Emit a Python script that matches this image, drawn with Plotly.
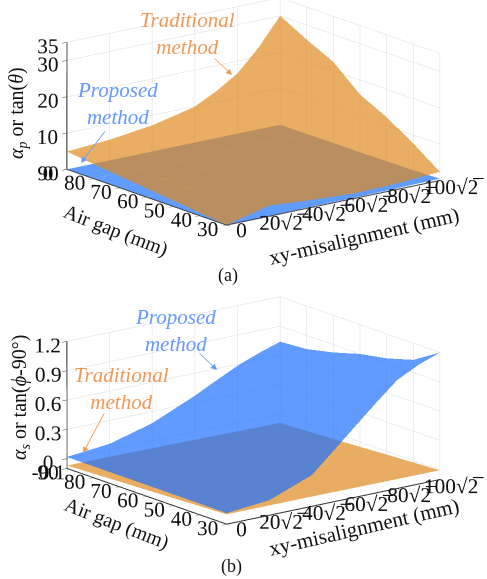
import plotly.graph_objects as go

gap = [30, 40, 50, 60, 70, 80, 90]
xy = [0, 20, 40, 60, 80, 100]
xy_fine = [0, 20, 40, 60, 70, 80, 90, 100]
xy_labels = ["0", "20√2̅", "40√2̅", "60√2̅", "80√2̅", "100√2̅"]

trad_a = [
    [0.0, 2.9, 2.0, 1.4, 1.5, 1.7, 2.0, 2.4],
    [0.8, 2.6, 2.8, 3.3, 4.0, 5.0, 6.2, 7.6],
    [1.6, 2.7, 3.4, 4.5, 5.6, 7.2, 9.4, 12.3],
    [2.4, 3.2, 4.2, 5.9, 7.4, 9.6, 12.4, 16.0],
    [3.2, 3.9, 5.1, 7.3, 9.2, 12.0, 16.0, 22.4],
    [4.0, 4.8, 6.1, 8.6, 10.9, 14.0, 19.3, 26.0],
    [4.9, 5.7, 7.2, 9.9, 12.9, 16.6, 22.6, 30.0],
]
prop_a = [
    [0.0, 0.1, 0.2, 0.2, 0.3, 0.5],
    [0.0, 0.1, 0.1, 0.2, 0.2, 0.3],
    [0.0, 0.1, 0.1, 0.1, 0.2, 0.2],
    [0.0, 0.0, 0.1, 0.1, 0.1, 0.1],
    [0.0, 0.0, 0.0, 0.1, 0.1, 0.1],
    [0.0, 0.0, 0.0, 0.0, 0.0, 0.0],
    [0.0, 0.0, 0.0, 0.0, 0.0, 0.0],
]
trad_b = [
    [0.0, 0.0, 0.0, -0.002, -0.004, -0.005],
    [-0.012, -0.012, -0.013, -0.015, -0.017, -0.019],
    [-0.024, -0.024, -0.026, -0.028, -0.031, -0.034],
    [-0.036, -0.037, -0.039, -0.042, -0.046, -0.05],
    [-0.047, -0.049, -0.052, -0.056, -0.06, -0.064],
    [-0.059, -0.061, -0.064, -0.068, -0.073, -0.078],
    [-0.07, -0.072, -0.076, -0.08, -0.085, -0.09],
]
prop_b = [
    [0.013, 0.054, 0.22, 0.62, 0.82, 1.01, 1.12, 1.2],
    [0.014, 0.055, 0.21, 0.57, 0.74, 0.90, 0.98, 1.03],
    [0.015, 0.055, 0.20, 0.52, 0.67, 0.82, 0.90, 0.95],
    [0.015, 0.055, 0.19, 0.47, 0.61, 0.75, 0.84, 0.90],
    [0.016, 0.06, 0.19, 0.43, 0.56, 0.69, 0.77, 0.82],
    [0.016, 0.06, 0.18, 0.40, 0.52, 0.63, 0.71, 0.76],
    [0.017, 0.06, 0.18, 0.37, 0.48, 0.585, 0.67, 0.74],
]
za_ticks = [0, 10, 20, 30, 35]
zb_ticks = [-0.1, 0, 0.3, 0.6, 0.9, 1.2]
zb_labels = ["-0.1", "0", "0.3", "0.6", "0.9", "1.2"]

ORANGE_BASE = "#E8AC62"
ORANGE_TOP = "#DF891F"
BLUE_BASE = "#609CFF"
BLUE_TOP = "#1C70FF"
FONT = "Liberation Serif"


def surf(x, z, color, scene, opacity):
    return go.Surface(
        x=x, y=gap, z=z, scene=scene, showscale=False, opacity=opacity,
        colorscale=[[0, color], [1, color]], hoverinfo="skip",
        lighting=dict(ambient=1, diffuse=0, specular=0, fresnel=0),
    )


fig = go.Figure()
fig.add_trace(surf(xy, prop_a, BLUE_BASE, "scene", 1))
fig.add_trace(surf(xy_fine, trad_a, ORANGE_TOP, "scene", 0.7))
fig.add_trace(surf(xy, trad_b, ORANGE_BASE, "scene2", 1))
fig.add_trace(surf(xy_fine, prop_b, BLUE_TOP, "scene2", 0.7))


def axis(**kw):
    return dict(
        showbackground=False, showgrid=True, gridcolor="#DDDDDD", gridwidth=1,
        showline=True, linecolor="#222222", linewidth=2, zeroline=False,
        showspikes=False, title=dict(text=""), ticks="outside", ticklen=6,
        tickfont=dict(family=FONT, size=16, color="#111111"), tickangle=0,
        **kw,
    )


R = 1.9
CX, CY = -0.06, 0.034


def scene(domain, zrange, ztv, ztt, cz):
    return dict(
        domain=domain,
        xaxis=axis(range=[0, 100], tickmode="array", tickvals=xy, ticktext=xy_labels),
        yaxis=axis(range=[30, 90], tickmode="array", tickvals=gap, ticktext=[str(g) for g in gap]),
        zaxis=axis(range=zrange, tickmode="array", tickvals=ztv, ticktext=ztt),
        aspectmode="manual", aspectratio=dict(x=1.86, y=1.8, z=0.91),
        camera=dict(
            projection=dict(type="orthographic"),
            eye=dict(x=CX - 0.589 * R, y=CY - 0.761 * R, z=cz + 0.27 * R),
            center=dict(x=CX, y=CY, z=cz), up=dict(x=0, y=0, z=1),
        ),
    )


fig.update_layout(
    width=487, height=579, margin=dict(l=0, r=0, t=0, b=0),
    paper_bgcolor="white", showlegend=False,
    scene=scene(dict(x=[0, 1], y=[0.5, 1]), [0, 35], za_ticks, [str(v) for v in za_ticks], -0.238),
    scene2=scene(dict(x=[0, 1], y=[0, 0.5]), [-0.1, 1.2], zb_ticks, zb_labels, -0.173),
)


def note(text, x, y, size=20, color="#111111", angle=0):
    fig.add_annotation(
        xref="paper", yref="paper", x=x / 487, y=1 - y / 579, text=text, textangle=angle,
        xanchor="center", yanchor="middle", showarrow=False,
        font=dict(family=FONT, size=size, color=color), align="center",
    )


def arrow(x0, y0, x1, y1, color):
    fig.add_annotation(
        xref="paper", yref="paper", axref="pixel", ayref="pixel",
        x=x1 / 487, y=1 - y1 / 579, ax=x0 - x1, ay=y0 - y1, text="",
        showarrow=True, arrowhead=2, arrowsize=1.2, arrowwidth=1, arrowcolor=color,
    )


TEXT_O = "#F09A5A"
TEXT_B = "#6699FF"
note("<i>Traditional<br>method</i>", 187, 34, 21, TEXT_O)
note("<i>Proposed<br>method</i>", 117, 103, 21, TEXT_B)
arrow(213, 57, 232, 75, TEXT_O)
arrow(106, 130, 81, 163, TEXT_B)
note("<i>α<sub>p</sub></i> or tan(<i>θ</i>)", 18, 113, 20, angle=-90)
note("Air gap (mm)", 116, 230, 20, angle=21)
note("xy-misalignment (mm)", 364, 236, 21, angle=-13)
note("(a)", 228, 276, 18)

note("<i>Proposed<br>method</i>", 175, 330, 21, TEXT_B)
note("<i>Traditional<br>method</i>", 121, 388, 21, TEXT_O)
arrow(198, 352, 217, 370, TEXT_B)
arrow(105, 412, 83, 453, TEXT_O)
note("<i>α<sub>s</sub></i> or tan(<i>ϕ</i>-90°)", 20, 398, 20, angle=-90)
note("Air gap (mm)", 117, 523, 20, angle=21)
note("xy-misalignment (mm)", 364, 527, 21, angle=-13)
note("(b)", 231, 566, 18)

fig.write_html("out.html", config={"displayModeBar": False}, post_script="document.body.style.margin='0';")
